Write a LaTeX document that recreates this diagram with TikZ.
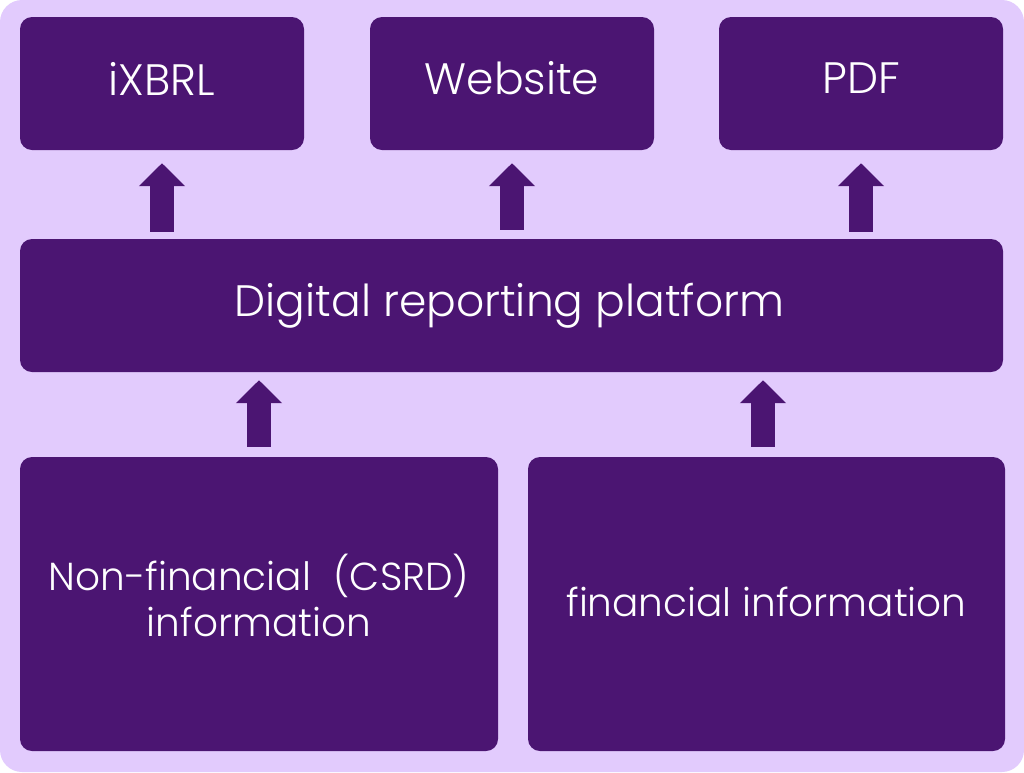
\documentclass[tikz,border=0pt]{standalone}
\usepackage{fontspec}
\setmainfont{Poppins}[UprightFont={* Light}]
\usetikzlibrary{arrows.meta,calc}
\definecolor{bgl}{HTML}{E2CBFD}
\definecolor{dk}{HTML}{4B1572}
\begin{document}
\begin{tikzpicture}[x=1pt,y=-1pt,
  box/.style={draw=none,fill=dk,rounded corners=12pt,inner sep=0pt,text=white,align=center},
  lbl/.style={text=white,inner sep=0pt,align=center},
  blk/.style={draw=dk,line width=24pt,-{Triangle[width=45pt,length=23pt]}}]
\useasboundingbox (0,0) rectangle (1024,772);
\fill[bgl,rounded corners=22pt] (0,0) rectangle (1024,772);
\node[box,minimum width=284pt,minimum height=133pt] (ixbrl) at (162,83.5) {};
\node[box,minimum width=284pt,minimum height=133pt] (web) at (512,83.5) {};
\node[box,minimum width=284pt,minimum height=133pt] (pdf) at (861,83.5) {};
\node[box,minimum width=983pt,minimum height=133pt] (dig) at (511.5,305.5) {};
\node[box,minimum width=478pt,minimum height=294pt] (nonfin) at (259,604) {};
\node[box,minimum width=477pt,minimum height=294pt] (fin) at (766.5,604) {};
\node[lbl,font=\fontsize{44}{52}\selectfont,yshift=5pt] (tixbrl) at (ixbrl) {iXBRL};
\node[lbl,font=\fontsize{44}{52}\selectfont,yshift=5pt] (tweb) at (web) {Website};
\node[lbl,font=\fontsize{44}{52}\selectfont,yshift=5pt] (tpdf) at (pdf) {PDF};
\node[lbl,font=\fontsize{44}{52}\selectfont,xshift=-2pt] (tdig) at (dig) {Digital reporting platform};
\node[lbl,font=\fontsize{39}{46}\selectfont,yshift=9pt] (tnonfin) at (nonfin) {Non-financial\hspace{12pt} (CSRD)\\information};
\node[lbl,font=\fontsize{39}{46}\selectfont,yshift=2pt] (tfin) at (fin) {financial information};
\draw[blk,shorten <=7pt,shorten >=13pt] (ixbrl.south |- dig.north) -- (ixbrl.south);
\draw[blk,shorten <=9pt,shorten >=13pt] (web.south |- dig.north) -- (web.south);
\draw[blk,shorten <=7pt,shorten >=13pt] (pdf.south |- dig.north) -- (pdf.south);
\draw[blk,shorten <=10pt,shorten >=8pt] (nonfin.north) -- (nonfin.north |- dig.south);
\draw[blk,shorten <=10pt,shorten >=8pt] ([xshift=-3.5pt]fin.north) -- ([xshift=-3.5pt]fin.north |- dig.south);
\end{tikzpicture}
\end{document}
